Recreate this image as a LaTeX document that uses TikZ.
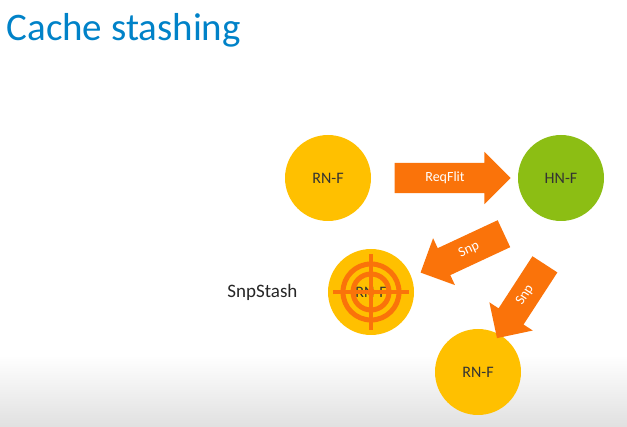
\documentclass[tikz,border=0pt]{standalone}
\usepackage{fontspec}
\setmainfont{Carlito}
\usetikzlibrary{shapes.arrows}
\definecolor{ttl}{RGB}{0,130,200}
\definecolor{gold}{RGB}{255,192,0}
\definecolor{org}{RGB}{250,115,10}
\definecolor{grn}{RGB}{140,190,20}
\begin{document}
\begin{tikzpicture}[x=1pt,y=1pt,
  ball/.style={circle,minimum size=86pt,inner sep=0pt,font=\fontsize{16}{16}\selectfont,text=black!80},
  arr/.style={single arrow,fill=org,text=white,font=\fontsize{14}{14}\selectfont,
    single arrow head extend=11pt,single arrow tip angle=90,inner xsep=3pt,inner ysep=9pt,minimum height=#1},
  ring/.style={draw=org,line width=5pt}]
\useasboundingbox (0,0) rectangle (627,-427);
\shade[top color=white,bottom color=black!12] (0,-355) rectangle (627,-427);
\node[anchor=west,text=ttl,font=\fontsize{39}{39}\selectfont] (t) at (3,-30) {Cache stashing};
\node[ball,fill=gold] (rn1) at (328,-178) {RN-F};
\node[ball,fill=grn] (hn) at (561,-178) {HN-F};
\node[ball,fill=gold] (rn2) at (371,-292) {RN-F};
\draw[ring] (rn2.center) circle (28);
\draw[ring] (rn2.center) circle (18);
\fill[org] (rn2.center) circle (4);
\draw[org,line width=4pt] ([xshift=-38pt]rn2.center) -- ([xshift=38pt]rn2.center);
\draw[org,line width=4pt] ([yshift=-38pt]rn2.center) -- ([yshift=38pt]rn2.center);
\node[ball,fill=gold] (rn3) at (478,-372) {RN-F};
\node[anchor=east,font=\fontsize{19}{19}\selectfont,text=black!85] (ss) at (301,-292) {SnpStash};
\node[arr=116pt] (a1) at (445,-178) {ReqFlit};
\node[arr=92pt,shape border rotate=180,rotate=25] (a2) at (469,-250) {Snp};
\node[arr=88pt,shape border rotate=180,rotate=57] (a3) at (525,-295) {Snp};
\end{tikzpicture}
\end{document}
